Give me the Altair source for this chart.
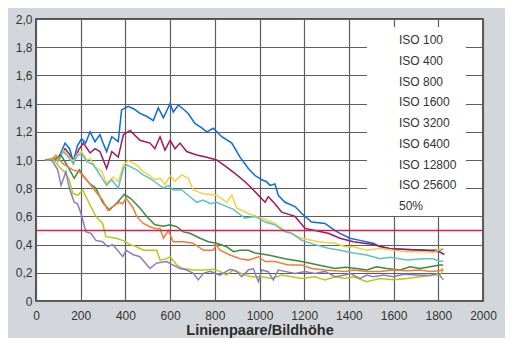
import altair as alt
import pandas as pd

series_names = ["ISO 100", "ISO 400", "ISO 800", "ISO 1600", "ISO 3200",
                "ISO 6400", "ISO 12800", "ISO 25600"]
series_colors = ["#0a6ed8", "#a01660", "#f8cf40", "#5ec2c4", "#3c8c3c",
                 "#f27c3c", "#b0cc1a", "#8c7cc4"]

iso100_x = [40, 85, 105, 130, 150, 167, 185, 204, 222, 242, 264, 286, 300, 316, 339, 368, 383, 413, 440, 465, 495, 525, 547, 570, 600, 614, 637, 660, 681, 711, 740, 764, 793, 831, 876, 913, 950, 980, 1010, 1032, 1047, 1069, 1084, 1114, 1159, 1189, 1233, 1293, 1338, 1360, 1405, 1450, 1509, 1539, 1584, 1659, 1733, 1793, 1822]
iso100_y = [1.0, 1.0, 1.03, 1.12, 1.08, 0.99, 1.10, 1.15, 1.12, 1.20, 1.13, 1.18, 1.12, 1.06, 1.165, 1.13, 1.355, 1.38, 1.36, 1.33, 1.31, 1.28, 1.37, 1.30, 1.40, 1.34, 1.39, 1.36, 1.33, 1.26, 1.23, 1.20, 1.225, 1.165, 1.12, 1.02, 0.94, 0.89, 0.86, 0.846, 0.82, 0.83, 0.75, 0.70, 0.67, 0.62, 0.56, 0.55, 0.50, 0.48, 0.445, 0.43, 0.41, 0.385, 0.37, 0.366, 0.36, 0.35, 0.37]

iso400_x = [40, 85, 105, 130, 150, 167, 190, 212, 242, 264, 286, 316, 339, 368, 391, 421, 465, 510, 532, 555, 577, 600, 622, 644, 674, 719, 764, 808, 853, 890, 935, 965, 995, 1025, 1039, 1069, 1099, 1159, 1204, 1248, 1308, 1360, 1420, 1509, 1584, 1659, 1763, 1793, 1827]
iso400_y = [1.0, 1.0, 1.03, 1.08, 1.04, 0.976, 1.07, 1.12, 1.05, 1.08, 1.06, 0.94, 1.06, 1.02, 1.18, 1.21, 1.14, 1.12, 1.08, 1.165, 1.07, 1.14, 1.08, 1.12, 1.06, 1.035, 1.02, 1.0, 0.95, 0.905, 0.846, 0.80, 0.75, 0.70, 0.74, 0.69, 0.63, 0.60, 0.515, 0.50, 0.48, 0.445, 0.42, 0.40, 0.37, 0.365, 0.36, 0.36, 0.33]

iso800_x = [40, 85, 100, 122, 145, 167, 185, 204, 227, 242, 264, 294, 316, 346, 368, 391, 413, 450, 480, 510, 532, 555, 577, 600, 622, 652, 681, 704, 749, 808, 853, 876, 898, 950, 1010, 1069, 1114, 1189, 1263, 1338, 1383, 1420, 1480, 1539, 1599, 1659, 1733, 1778, 1822]
iso800_y = [1.0, 1.02, 1.0, 1.07, 1.03, 0.99, 1.04, 1.06, 1.0, 1.01, 0.95, 0.92, 0.835, 0.88, 0.846, 0.965, 0.995, 0.965, 0.917, 0.89, 0.86, 0.87, 0.825, 0.89, 0.85, 0.894, 0.87, 0.787, 0.76, 0.75, 0.70, 0.75, 0.66, 0.62, 0.587, 0.55, 0.50, 0.445, 0.42, 0.41, 0.385, 0.385, 0.36, 0.374, 0.36, 0.35, 0.35, 0.345, 0.374]

iso1600_x = [40, 85, 100, 122, 145, 167, 185, 204, 227, 257, 286, 316, 339, 368, 391, 406, 450, 480, 510, 540, 570, 592, 614, 652, 681, 719, 749, 779, 808, 838, 883, 935, 980, 1025, 1069, 1114, 1144, 1189, 1248, 1308, 1360, 1420, 1480, 1539, 1584, 1659, 1733, 1778, 1808, 1822]
iso1600_y = [1.0, 1.01, 0.99, 1.06, 1.02, 0.976, 1.03, 1.045, 0.99, 0.965, 0.894, 0.82, 0.86, 0.80, 0.94, 0.965, 0.93, 0.895, 0.87, 0.835, 0.80, 0.82, 0.787, 0.787, 0.75, 0.70, 0.716, 0.69, 0.70, 0.68, 0.65, 0.587, 0.60, 0.56, 0.54, 0.49, 0.48, 0.43, 0.40, 0.374, 0.36, 0.34, 0.326, 0.30, 0.31, 0.29, 0.30, 0.30, 0.28, 0.286]

iso3200_x = [40, 80, 112, 140, 171, 194, 215, 239, 268, 298, 328, 365, 395, 425, 465, 495, 532, 570, 600, 630, 659, 689, 734, 771, 808, 853, 883, 913, 950, 980, 1039, 1114, 1189, 1263, 1338, 1383, 1435, 1480, 1524, 1569, 1629, 1674, 1718, 1763, 1808, 1822]
iso3200_y = [1.0, 1.0, 1.035, 0.96, 0.87, 0.93, 0.88, 0.835, 0.80, 0.70, 0.645, 0.70, 0.757, 0.725, 0.66, 0.60, 0.54, 0.53, 0.54, 0.527, 0.49, 0.48, 0.445, 0.42, 0.41, 0.385, 0.35, 0.36, 0.36, 0.34, 0.326, 0.30, 0.28, 0.255, 0.23, 0.24, 0.23, 0.22, 0.243, 0.23, 0.22, 0.243, 0.23, 0.243, 0.255, 0.255]

iso6400_x = [40, 70, 89, 119, 164, 194, 239, 268, 298, 321, 343, 373, 388, 403, 435, 450, 480, 510, 532, 555, 570, 592, 614, 659, 704, 749, 793, 808, 823, 868, 913, 950, 995, 1025, 1069, 1129, 1189, 1233, 1293, 1383, 1420, 1480, 1539, 1599, 1659, 1718, 1763, 1808, 1822]
iso6400_y = [1.0, 1.0, 1.035, 0.976, 0.93, 0.917, 0.835, 0.775, 0.716, 0.645, 0.67, 0.70, 0.69, 0.73, 0.66, 0.60, 0.55, 0.527, 0.515, 0.515, 0.445, 0.50, 0.42, 0.42, 0.41, 0.36, 0.36, 0.40, 0.36, 0.326, 0.30, 0.29, 0.314, 0.28, 0.28, 0.255, 0.255, 0.23, 0.22, 0.21, 0.22, 0.21, 0.21, 0.22, 0.215, 0.22, 0.21, 0.215, 0.23]

iso12800_x = [40, 60, 82, 104, 127, 149, 164, 186, 209, 239, 268, 298, 313, 358, 388, 421, 450, 480, 510, 540, 555, 585, 600, 630, 659, 704, 749, 793, 823, 853, 883, 935, 965, 1010, 1054, 1099, 1144, 1189, 1248, 1293, 1338, 1383, 1420, 1480, 1539, 1599, 1659, 1718, 1778, 1808, 1822]
iso12800_y = [1.0, 1.0, 1.0, 0.95, 0.917, 0.86, 0.764, 0.75, 0.787, 0.69, 0.60, 0.55, 0.456, 0.445, 0.43, 0.40, 0.385, 0.36, 0.36, 0.36, 0.29, 0.30, 0.314, 0.255, 0.23, 0.22, 0.22, 0.225, 0.21, 0.184, 0.22, 0.184, 0.172, 0.172, 0.16, 0.184, 0.172, 0.16, 0.172, 0.15, 0.172, 0.16, 0.172, 0.137, 0.16, 0.15, 0.16, 0.172, 0.184, 0.184, 0.22]

iso25600_x = [40, 60, 75, 97, 112, 134, 149, 171, 186, 201, 224, 246, 268, 298, 321, 343, 365, 388, 403, 433, 465, 510, 540, 585, 614, 644, 674, 704, 726, 749, 779, 823, 868, 898, 920, 950, 972, 995, 1010, 1039, 1062, 1084, 1114, 1159, 1204, 1248, 1293, 1338, 1383, 1405, 1450, 1480, 1509, 1554, 1599, 1644, 1703, 1763, 1800, 1822]
iso25600_y = [1.0, 1.0, 0.99, 0.93, 0.82, 0.917, 0.80, 0.70, 0.69, 0.62, 0.49, 0.48, 0.43, 0.42, 0.385, 0.40, 0.36, 0.314, 0.36, 0.33, 0.314, 0.23, 0.27, 0.28, 0.255, 0.23, 0.22, 0.196, 0.15, 0.196, 0.21, 0.184, 0.225, 0.21, 0.172, 0.22, 0.23, 0.137, 0.22, 0.208, 0.15, 0.22, 0.21, 0.196, 0.21, 0.196, 0.21, 0.172, 0.184, 0.196, 0.16, 0.184, 0.172, 0.184, 0.172, 0.19, 0.184, 0.18, 0.196, 0.15]

threshold_value = 0.5
threshold_label = "50%"
x_ticks = [0, 200, 400, 600, 800, 1000, 1200, 1400, 1600, 1800, 2000]
y_ticks = [0, 0.2, 0.4, 0.6, 0.8, 1.0, 1.2, 1.4, 1.6, 1.8, 2.0]

all_x = [iso100_x, iso400_x, iso800_x, iso1600_x, iso3200_x, iso6400_x, iso12800_x, iso25600_x]
all_y = [iso100_y, iso400_y, iso800_y, iso1600_y, iso3200_y, iso6400_y, iso12800_y, iso25600_y]

rows = []
for name, xs, ys in zip(series_names, all_x, all_y):
    for a, b in zip(xs, ys):
        rows.append({"series": name, "lp": a, "v": b})
df = pd.DataFrame(rows)

FONT = "Liberation Sans"
W, H = 447, 282

xscale = alt.Scale(domain=[0, 2000], nice=False, zero=False)
yscale = alt.Scale(domain=[0, 2], nice=False)

lines = alt.Chart(df).mark_line(strokeWidth=1.5).encode(
    x=alt.X("lp:Q", scale=xscale,
            axis=alt.Axis(values=x_ticks, format="d", title="Linienpaare/Bildhöhe", grid=True,
                          ticks=False, domain=False, labelFlush=False,
                          labelPadding=9, titlePadding=2,
                          titleFont=FONT, titleFontSize=14.5, titleFontWeight="bold",
                          titleColor="#2a2a2a", labelFont=FONT, labelFontSize=12,
                          labelColor="#333333", gridColor="#5e5e5e", gridWidth=1.2)),
    y=alt.Y("v:Q", scale=yscale,
            axis=alt.Axis(values=y_ticks, title=None, grid=True, ticks=False,
                          domain=False, labelFlush=False, labelPadding=4,
                          labelExpr="datum.value == 0 ? '0' : replace(format(datum.value, '.1f'), '.', ',')",
                          labelFont=FONT, labelFontSize=12, labelColor="#333333",
                          gridColor="#5e5e5e", gridWidth=1.2)),
    color=alt.Color("series:N", scale=alt.Scale(domain=series_names, range=series_colors),
                    legend=None),
    order=alt.Order("lp:Q"),
)

thr = alt.Chart(pd.DataFrame({"v": [threshold_value]})).mark_rule(
    color="#d42050", strokeWidth=1.5).encode(y=alt.Y("v:Q", scale=yscale, axis=None))

box = alt.Chart(pd.DataFrame({"a": [0]})).mark_rect(fill="white").encode(
    x=alt.value(331), x2=alt.value(430), y=alt.value(8), y2=alt.value(197))

legend_labels = series_names + [threshold_label]
leg_df = pd.DataFrame({"label": legend_labels, "idx": list(range(len(legend_labels)))})
legend_text = alt.Chart(leg_df).mark_text(
    align="left", baseline="middle", font=FONT, fontSize=12, color="#333333").encode(
    x=alt.value(363),
    y=alt.Y("idx:Q", scale=alt.Scale(domain=[0, 8], range=[21, 187]), axis=None),
    text="label:N")

chart = alt.layer(lines, thr, box, legend_text).resolve_scale(y="independent").properties(
    width=W, height=H, background="#d3d7db",
    padding={"left": 28, "top": 11, "right": 22, "bottom": 37},
    autosize=alt.AutoSizeParams(type="none"),
).configure_view(stroke="#222222", strokeWidth=1.5, fill="white")

chart.save("out.html", embed_options={"renderer": "svg", "actions": False})
